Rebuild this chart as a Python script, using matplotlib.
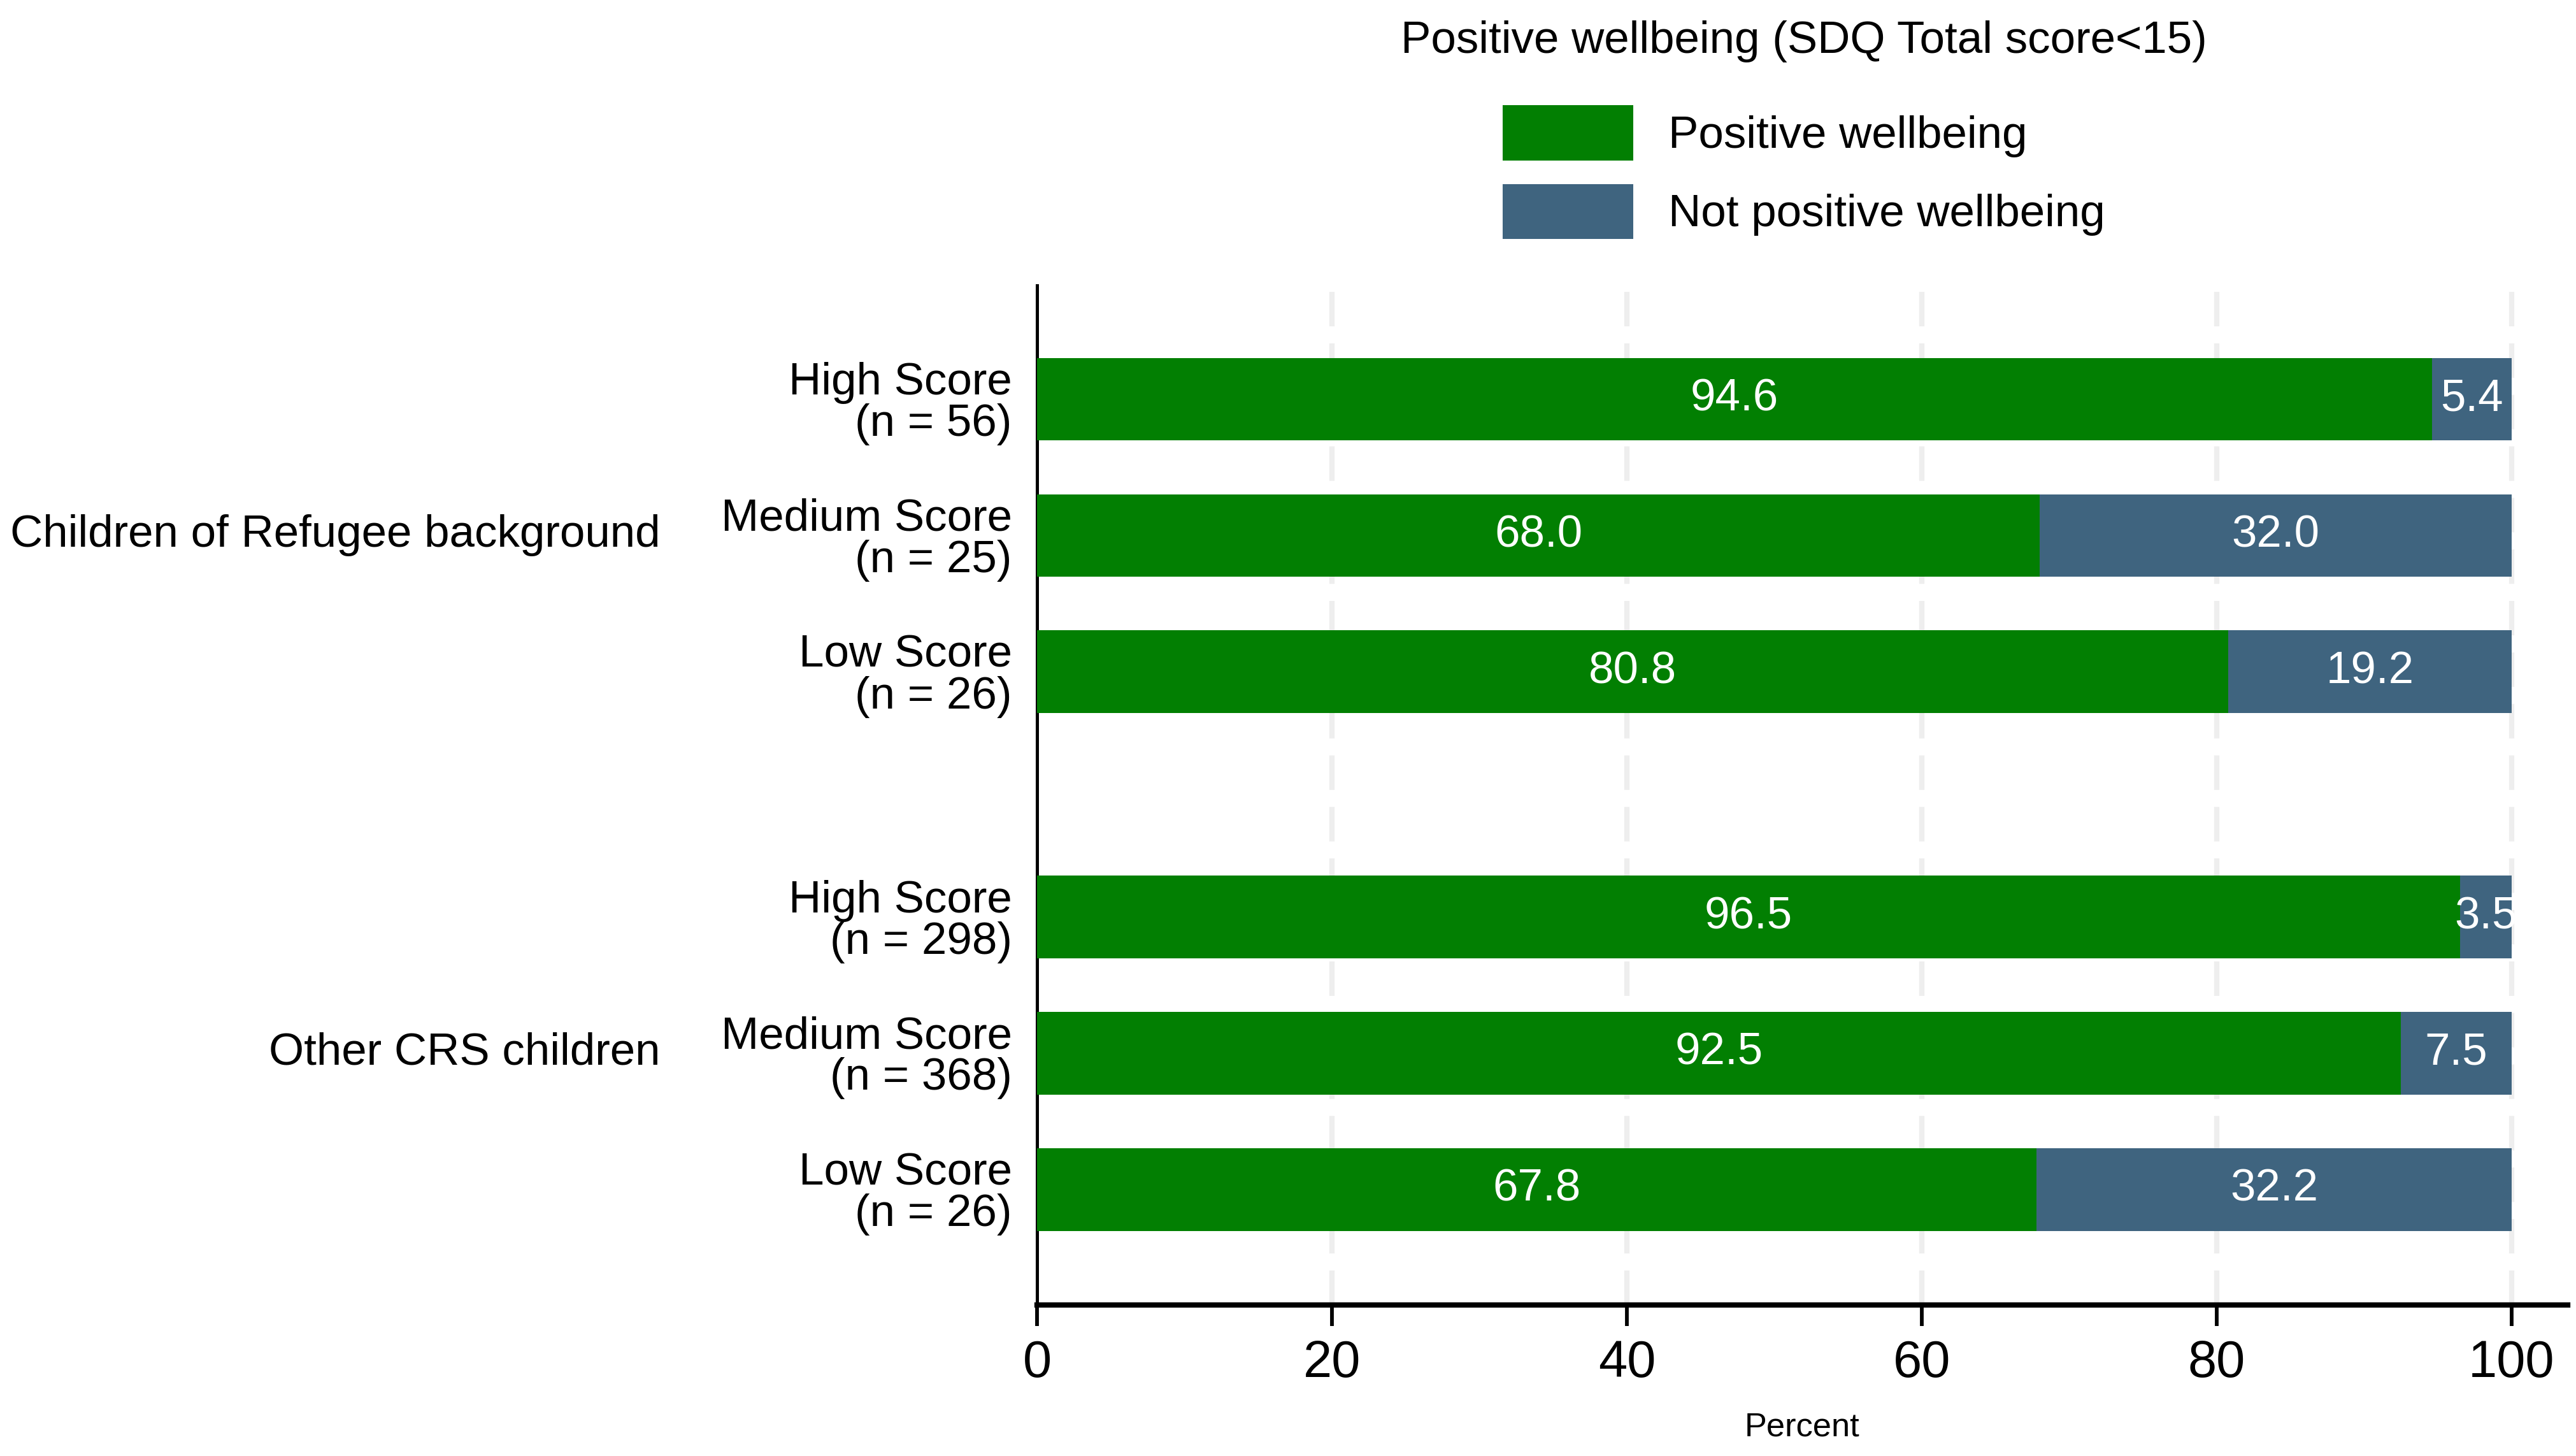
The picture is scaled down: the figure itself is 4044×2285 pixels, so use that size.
import numpy as np
import matplotlib.pyplot as plt
from matplotlib.transforms import blended_transform_factory

plt.rcParams['font.family'] = ['Liberation Sans', 'DejaVu Sans']

# Data
groups = ["Children of Refugee background", "Other CRS children"]
levels = ["High Score", "Medium Score", "Low Score"]
n_refugee = [56, 25, 26]
n_other = [298, 368, 26]
positive_refugee = [94.6, 68.0, 80.8]
not_positive_refugee = [5.4, 32.0, 19.2]
positive_other = [96.5, 92.5, 67.8]
not_positive_other = [3.5, 7.5, 32.2]

green = '#027F02'
slate = '#3F647F'

positive = positive_refugee + positive_other
not_positive = not_positive_refugee + not_positive_other
counts = n_refugee + n_other
labels = [f"{lv}\n(n = {n})" for lv, n in zip(levels * 2, counts)]

# bar positions: two blocks of three with a wider gap between groups
gap = 1.8
ypos = np.array([0, 1, 2, 2 + gap, 3 + gap, 4 + gap])
bar_h = 0.606

fig = plt.figure(figsize=(4044 / 300, 2285 / 300), dpi=300)
ax = fig.add_axes([0.4026, 0.1037, 0.9967 - 0.4026, 0.804 - 0.1037])

b1 = ax.barh(ypos, positive, height=bar_h, color=green, label='Positive wellbeing', zorder=3)
b2 = ax.barh(ypos, not_positive, left=positive, height=bar_h, color=slate,
             label='Not positive wellbeing', zorder=3)
ax.bar_label(b1, fmt='%.1f', label_type='center', color='white', fontsize=17)
ax.bar_label(b2, fmt='%.1f', label_type='center', color='white', fontsize=17)

ax.set_xlim(0, 103.8)
ax.set_ylim(ypos[-1] + 0.848, -0.836)

ax.set_xticks([0, 20, 40, 60, 80, 100])
ax.tick_params(axis='x', labelsize=19.5, length=8, width=1.4, pad=5)
ax.set_yticks(ypos)
ax.set_yticklabels(labels, fontsize=17, linespacing=0.98)
ax.tick_params(axis='y', length=0, pad=9.5)

for x in [20, 40, 60, 80, 100]:
    ax.axvline(x, color='#EEEEEE', lw=2, linestyle=(0, (6.5, 3.2)), zorder=1)

for side in ['top', 'right']:
    ax.spines[side].set_visible(False)
ax.spines['left'].set_linewidth(1.2)
ax.spines['bottom'].set_linewidth(2)

ax.set_xlabel('Percent', fontsize=12.6, labelpad=9)

# group labels to the left of the tick labels
trans = blended_transform_factory(fig.transFigure, ax.transData)
ax.text(1037 / 4044, ypos[1], groups[0], transform=trans, ha='right', va='center', fontsize=17)
ax.text(1037 / 4044, ypos[4], groups[1], transform=trans, ha='right', va='center', fontsize=17)

# legend title drawn on its own so the gap to the keys can match
legend_x = 2832 / 4044
fig.text(legend_x, 1 - 65 / 2285, 'Positive wellbeing (SDQ Total score<15)',
         ha='center', va='center', fontsize=17)
fig.legend(handles=[b1, b2], loc='upper center', bbox_to_anchor=(legend_x, 1 - 130 / 2285),
           fontsize=17, frameon=False, handlelength=2.9, handleheight=1.5,
           handletextpad=0.78, labelspacing=0.52, borderpad=0)

fig.savefig('out.png', dpi=300)
